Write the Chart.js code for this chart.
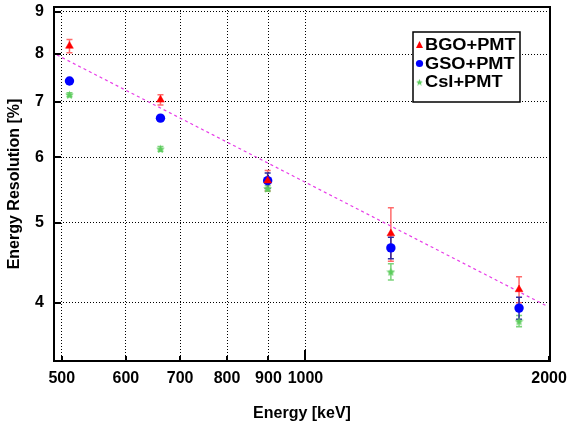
<!DOCTYPE html>
<html>
<head>
<meta charset="utf-8">
<script src="https://cdn.jsdelivr.net/npm/chart.js@4.4.1/dist/chart.umd.min.js"></script>
<style>
  html, body { margin: 0; padding: 0; background: #fff; }
  #wrap { width: 568px; height: 426px; }
</style>
</head>
<body>
<div id="wrap"><canvas id="resChart" width="568" height="426"></canvas></div>
<script>
// gamma line energies (keV)
const energies = [511, 662, 898, 1275, 1836];

// energy resolution (%) and errors per detector
const bgoRes = [8.18, 7.04, 5.62, 4.85, 4.15];
const bgoErr = [0.15, 0.10, 0.16, 0.36, 0.15];
const gsoRes = [7.42, 6.69, 5.62, 4.66, 3.94];
const gsoErr = [0.04, 0.04, 0.12, 0.14, 0.12];
const csiRes = [7.14, 6.14, 5.50, 4.36, 3.80];
const csiErr = [0.04, 0.04, 0.04, 0.10, 0.06];

// 1/sqrt(E) fit line end points
const fitE = [493, 1990];
const fitRes = [7.98, 3.96];

const xTicks = [500, 600, 700, 800, 900, 1000, 2000];
const yTicks = [4, 5, 6, 7, 8, 9];

const labels = ['BGO+PMT', 'GSO+PMT', 'CsI+PMT'];

const FONT = '"Liberation Sans", Arial, Helvetica, sans-serif';

function toPoints(xs, ys) {
  return xs.map((x, i) => ({ x: x, y: ys[i] }));
}

// filled five point star used as marker
function makeStar(size, color) {
  const c = document.createElement('canvas');
  c.width = size; c.height = size;
  const g = c.getContext('2d');
  const cx = size / 2, cy = size / 2, ro = size / 2, ri = ro * 0.45;
  g.beginPath();
  for (let i = 0; i < 10; i++) {
    const r = i % 2 ? ri : ro;
    const a = -Math.PI / 2 + i * Math.PI / 5;
    g.lineTo(cx + r * Math.cos(a), cy + r * Math.sin(a) + 0.5);
  }
  g.closePath();
  g.fillStyle = color;
  g.fill();
  return c;
}

const starImg = makeStar(9, '#5ccc5c');

// error bars behind the markers
const errorBars = {
  id: 'errorBars',
  beforeDatasetsDraw(chart) {
    const ctx = chart.ctx;
    const xs = chart.scales.x, ys = chart.scales.y;
    const sets = [
      [bgoRes, bgoErr, 'rgba(255,70,70,0.8)'],
      [csiRes, csiErr, 'rgba(90,200,90,0.8)'],
      [gsoRes, gsoErr, '#2a2aa0']
    ];
    ctx.save();
    ctx.lineWidth = 1.5;
    sets.forEach(([vals, errs, color]) => {
      ctx.strokeStyle = color;
      energies.forEach((e, i) => {
        const px = xs.getPixelForValue(e);
        const top = ys.getPixelForValue(vals[i] + errs[i]);
        const bot = ys.getPixelForValue(vals[i] - errs[i]);
        ctx.beginPath();
        ctx.moveTo(px, top); ctx.lineTo(px, bot);
        ctx.moveTo(px - 3, top); ctx.lineTo(px + 3, top);
        ctx.moveTo(px - 3, bot); ctx.lineTo(px + 3, bot);
        ctx.stroke();
      });
    });
    ctx.restore();
  }
};

// frame, inward ticks and the legend box
const frame = {
  id: 'frame',
  afterDraw(chart) {
    const ctx = chart.ctx;
    const a = chart.chartArea;
    const xs = chart.scales.x, ys = chart.scales.y;
    ctx.save();
    ctx.strokeStyle = '#000';
    ctx.lineWidth = 2;
    ctx.strokeRect(a.left, a.top, a.right - a.left, a.bottom - a.top);

    ctx.beginPath();
    yTicks.forEach(v => {
      const py = Math.round(ys.getPixelForValue(v));
      ctx.moveTo(a.left, py); ctx.lineTo(a.left + 7, py);
    });
    xTicks.forEach(v => {
      const px = Math.round(xs.getPixelForValue(v));
      const len = v === 1000 ? 11 : 5;
      ctx.moveTo(px, a.bottom); ctx.lineTo(px, a.bottom - len);
    });
    ctx.stroke();

    // legend
    const bx = 413, by = 32, bw = 107, bh = 70;
    ctx.fillStyle = '#fff';
    ctx.fillRect(bx, by, bw, bh);
    ctx.lineWidth = 1.5;
    ctx.strokeRect(bx, by, bw, bh);

    const rows = [45, 63.5, 82];
    // triangle
    ctx.fillStyle = '#ff0000';
    ctx.beginPath();
    ctx.moveTo(419.5, rows[0] - 4); ctx.lineTo(423, rows[0] + 3); ctx.lineTo(416, rows[0] + 3);
    ctx.closePath(); ctx.fill();
    // circle
    ctx.fillStyle = '#0000ff';
    ctx.beginPath();
    ctx.arc(419.5, rows[1], 3.6, 0, Math.PI * 2);
    ctx.fill();
    // star
    ctx.drawImage(makeStar(7, '#5ccc5c'), 416, rows[2] - 3.5);

    ctx.fillStyle = '#000';
    ctx.font = 'bold 16px ' + FONT;
    ctx.textBaseline = 'middle';
    labels.forEach((t, i) => {
      ctx.save();
      ctx.translate(425, rows[i] + 1);
      ctx.scale(1.14, 1);
      ctx.fillText(t, 0, 0);
      ctx.restore();
    });
    ctx.restore();
  }
};

const ctx = document.getElementById('resChart').getContext('2d');
new Chart(ctx, {
  type: 'scatter',
  data: {
    datasets: [
      {
        label: labels[0],
        data: toPoints(energies, bgoRes),
        pointStyle: 'triangle',
        pointRadius: 4.5,
        backgroundColor: '#ff0000',
        borderColor: '#ff0000',
        borderWidth: 0.5
      },
      {
        label: labels[2],
        data: toPoints(energies, csiRes),
        pointStyle: starImg
      },
      {
        label: labels[1],
        data: toPoints(energies, gsoRes),
        pointStyle: 'circle',
        pointRadius: 4.7,
        backgroundColor: '#0000ff',
        borderColor: '#0000ff',
        borderWidth: 0
      },
      {
        label: 'fit',
        data: toPoints(fitE, fitRes),
        showLine: true,
        pointRadius: 0,
        borderColor: '#e83ce8',
        borderWidth: 1.2,
        borderDash: [3, 3]
      }
    ]
  },
  options: {
    responsive: false,
    animation: false,
    devicePixelRatio: 1,
    layout: { padding: { left: 0, right: 18, top: 7, bottom: 0 } },
    plugins: {
      legend: { display: false },
      tooltip: { enabled: false }
    },
    scales: {
      x: {
        type: 'logarithmic',
        min: 489,
        max: 2005,
        afterBuildTicks: s => { s.ticks = xTicks.map(v => ({ value: v })); },
        afterFit: s => { s.height = 65; s.paddingLeft = 0; s.paddingRight = 0; },
        ticks: {
          autoSkip: false,
          maxRotation: 0,
          padding: 8,
          color: '#000',
          font: { family: FONT, size: 16, weight: 'bold' },
          callback: v => String(v)
        },
        grid: { color: '#000', lineWidth: 1, drawTicks: false },
        border: { display: false, dash: [1, 2] },
        title: {
          display: true,
          text: 'Energy [keV]',
          color: '#000',
          font: { family: FONT, size: 16, weight: 'bold' },
          padding: { top: 0, bottom: 3 }
        }
      },
      y: {
        type: 'logarithmic',
        min: 3.4,
        max: 9.12,
        afterBuildTicks: s => { s.ticks = yTicks.map(v => ({ value: v })); },
        afterFit: s => { s.width = 54; s.paddingTop = 0; s.paddingBottom = 0; },
        ticks: {
          autoSkip: false,
          padding: 10,
          color: '#000',
          font: { family: FONT, size: 16, weight: 'bold' },
          callback: v => String(v)
        },
        grid: { color: '#000', lineWidth: 1, drawTicks: false },
        border: { display: false, dash: [1, 2] },
        title: {
          display: true,
          text: 'Energy Resolution [%]',
          color: '#000',
          font: { family: FONT, size: 16, weight: 'bold' },
          padding: { top: 5, bottom: 0 }
        }
      }
    }
  },
  plugins: [errorBars, frame]
});
</script>
</body>
</html>
